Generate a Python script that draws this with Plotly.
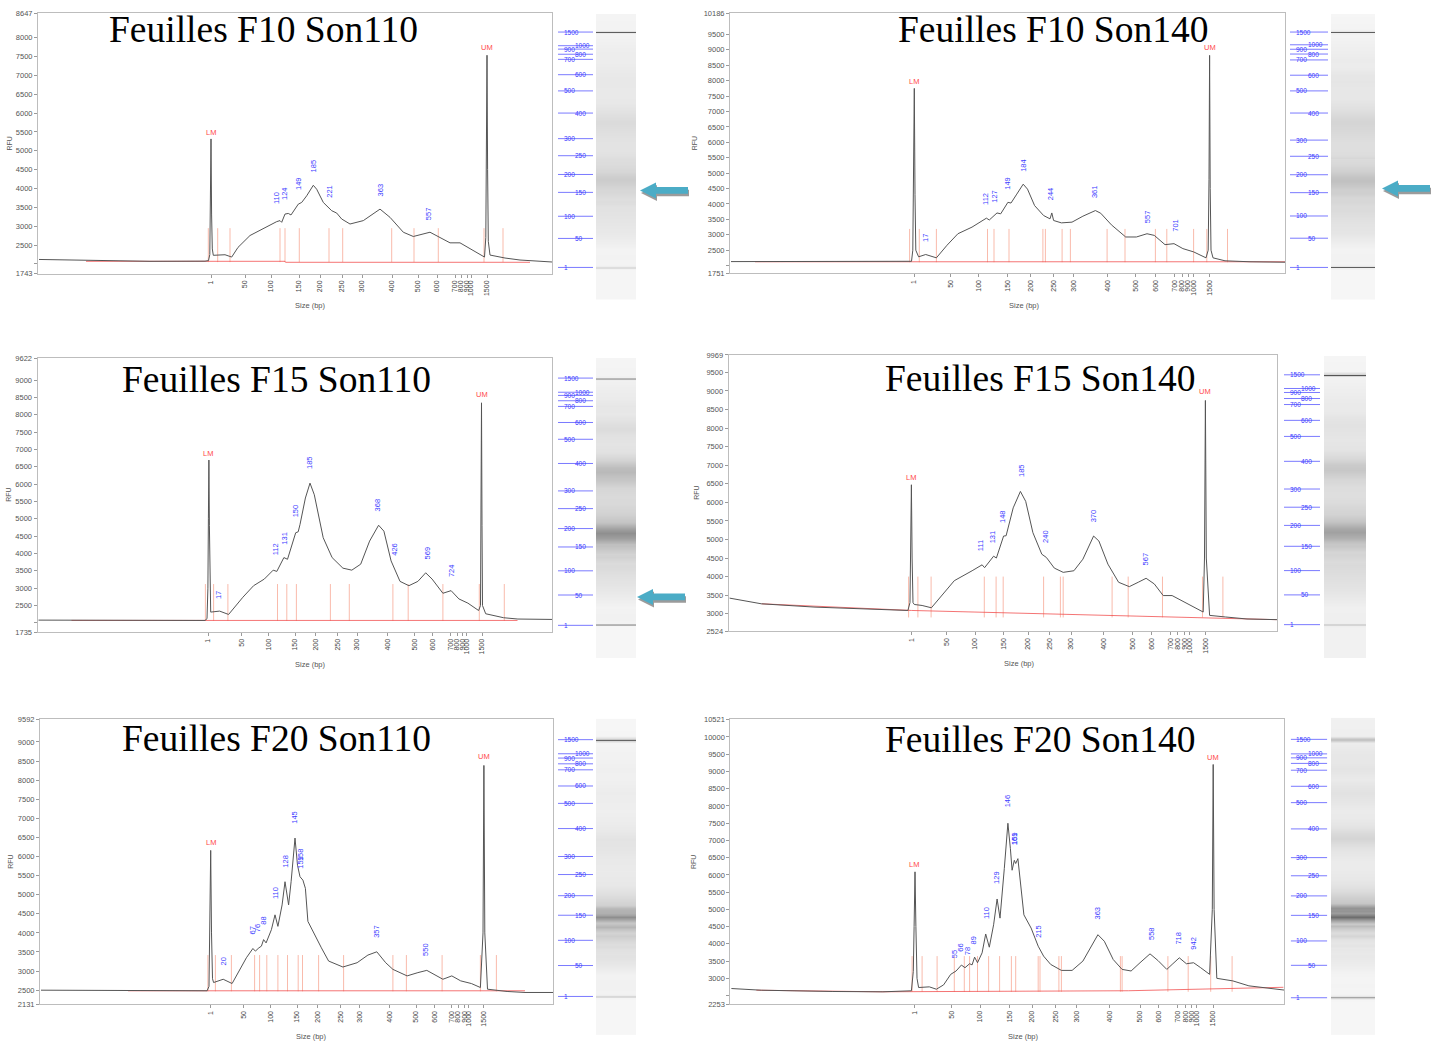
import numpy as np
import plotly.graph_objects as go

W, H = 1439, 1053

# size ladder (bp) shared by every run
LADDER_BP = [1, 50, 100, 150, 200, 250, 300, 400, 500, 600, 700, 800, 900, 1000, 1500]

# ---------- Feuilles F10 Son110 ----------
A_ladder_t = [173, 207, 233, 261, 282, 304, 324, 354, 380, 399, 417, 423, 429, 433, 449]
A_t = [1, 52, 112, 167, 170.5, 171.8, 172.4, 173, 173.6, 174.3,
       175.3, 181, 187, 193.7, 200, 212, 225.3, 238.7, 242, 243.7,
       247, 250.3, 253, 260.3, 263.7, 268.7, 275.3, 278.7, 285.3, 293.7,
       298.7, 303.7, 312, 325.3, 342, 352, 365.3, 375.3, 392, 402,
       412, 422, 442, 446.5, 447.8, 448.4, 449, 449.6, 450.3, 452,
       467, 482, 514]
A_rfu = [2120, 2090, 2071, 2075, 2090, 2250, 3400, 5316, 3300, 2400,
         2230, 2235, 2245, 2184, 2440, 2755, 2947, 3123, 3150, 3105,
         3324, 3340, 3300, 3587, 3632, 3808, 4087, 3982, 3632, 3413,
         3350, 3192, 3060, 3150, 3455, 3237, 2842, 2729, 2842, 2711,
         2561, 2561, 2271, 2184, 2700, 4500, 7535, 4500, 2600, 2237,
         2158, 2105, 2053]
A_peaks = [110, 124, 149, 185, 221, 363, 557]
A_peak_rfu = [3737, 3868, 4132, 4605, 3921, 3974, 3342]
A_markers = [170.3, 179.7, 192, 242, 247, 261.3, 291, 304.7, 353.7, 376, 400.3, 446, 465]
A_marker_span = [2050, 2950]
A_base_t = [48, 247, 247.5, 492]
A_base_rfu = [2071, 2071, 2045, 2045]
A_lm_um = [5475, 7740]
A_yrange = [1743, 8647]

# ---------- Feuilles F10 Son140 ----------
B_ladder_t = [184, 220.7, 248.6, 277.9, 300.4, 323.6, 343.9, 377.9, 405.7, 425.4, 444.6, 452, 458, 463.6, 479.6]
B_t = [1, 80, 178, 181.5, 182.8, 183.6, 184.3, 185, 185.8,
       188.6, 195.7, 206.4, 217, 227.9, 242, 256.4, 259.3, 267, 270.7,
       277.9, 281, 286.8, 293.2, 297.5, 304.6, 313.6, 320, 321.8, 323.6,
       331.4, 342, 352.9, 365.4, 370.7, 381.4, 395.7, 406.4, 417, 424.3,
       435, 444, 452.9, 463.6, 476, 478.2, 479, 479.6, 480.2, 481,
       483, 495, 520, 555]
B_rfu = [2130, 2124, 2124, 2140, 2500, 4500, 7751, 4300, 2500,
         2285, 2360, 2252, 2660, 3034, 3249, 3539, 3480, 3709, 3680,
         4053, 4030, 4320, 4642, 4481, 3947, 3625, 3517, 3709, 3464,
         3387, 3410, 3603, 3786, 3700, 3323, 2928, 2928, 3034, 2980,
         2680, 2712, 2551, 2445, 2252, 2500, 4800, 8822, 4500, 2500,
         2252, 2156, 2124, 2110]
B_peaks = [17, 112, 127, 149, 184, 244, 361, 557, 701]
B_peak_rfu = [2896, 4150, 4247, 4665, 5244, 4343, 4407, 3603, 3314]
B_markers = [179.6, 189.3, 206.4, 257.5, 264, 279, 312.9, 315.4, 332.1, 340.4,
             377.1, 395, 425.4, 436.8, 463.6, 476.8, 497.5]
B_marker_span = [2110, 3190]
B_base_t = [25, 555]
B_base_rfu = [2124, 2124]
B_lm_um = [7976, 9069]
B_yrange = [1751, 10186]

# ---------- Feuilles F15 Son110 ----------
C_ladder_t = [170.7, 204.3, 231.1, 257.5, 277.9, 300, 319.6, 350, 376.8, 395.4, 413.2, 419.5, 425.4, 428.9, 444.6]
C_t = [1, 72.5, 162.5, 167.5, 169.5, 170.4, 170.9, 171.4, 171.9, 172.4,
       173.2, 182.1, 191.1, 205.4, 216.1, 226.8, 235.7, 239.3, 246.4, 250,
       258.2, 260.7, 262.5, 267.9, 272.5, 276.8, 285.7, 294.6, 305.4, 314.3,
       323.2, 332.1, 341.1, 346.4, 353.6, 362.5, 371.4, 380.4, 388.2, 394.6,
       405.4, 413.6, 421.4, 430.4, 441.1, 443, 443.5, 444, 444.5, 445,
       448.2, 466.1, 480.4, 514.5]
C_rfu = [2080, 2075, 2071, 2071, 2120, 3000, 5000, 6694, 4800, 3000,
         2311, 2340, 2243, 2740, 3072, 3263, 3520, 3483, 3883, 3833,
         4598, 4626, 4836, 5600, 6028, 5693, 4455, 3883, 3578, 3520,
         3692, 4358, 4815, 4644, 3786, 3197, 3072, 3197, 3443, 3263,
         2854, 2929, 2691, 2569, 2357, 2500, 5000, 8343, 4800, 2500,
         2263, 2149, 2111, 2100]
C_peaks = [17, 112, 131, 150, 185, 368, 426, 569, 724]
C_peak_rfu = [2806, 4121, 4455, 5216, 6617, 5407, 4121, 4007, 3500]
C_markers = [167.9, 176.1, 190.4, 240, 249.3, 258.9, 292.9, 311.8, 355.4, 370.7, 405.4, 441.8, 466.8]
C_marker_span = [2060, 3120]
C_base_t = [34, 480]
C_base_rfu = [2071, 2071]
C_lm_um = [6885, 8581]
C_yrange = [1735, 9622]

# ---------- Feuilles F15 Son140 ----------
D_ladder_t = [182.8, 217.8, 246.4, 275, 299.6, 321, 342.4, 375, 404.3, 423.2, 441.8, 448.9, 456, 460.7, 476.8]
D_t = [1, 32.8, 86.4, 140, 179.3, 181.4, 182.1, 182.8, 183.5, 184.4,
       185.7, 193.5, 202.8, 211.4, 225.7, 243.5, 253.5, 256, 265, 267.8,
       275, 277.5, 284.6, 291.8, 297.1, 304.3, 313.2, 317.8, 325.7, 334.6,
       345.3, 354.3, 365, 370.3, 379.3, 390, 400.7, 409.6, 417.5, 425.7,
       434.6, 443.5, 452.5, 468.5, 474.6, 475.9, 476.8, 477.7, 481, 497.1,
       518.4, 548.4]
D_rfu = [3420, 3267, 3178, 3115, 3088, 3300, 4500, 6473, 4500, 3300,
         3249, 3222, 3160, 3446, 3890, 4157, 4317, 4240, 4550, 4500,
         5092, 5100, 5851, 6294, 6027, 5183, 4603, 4515, 4229, 4114,
         4157, 4469, 5092, 4958, 4336, 3847, 3729, 3847, 3954, 3802,
         3489, 3489, 3355, 3134, 3045, 4500, 8744, 4500, 2955, 2912,
         2858, 2840]
D_peaks = [111, 131, 148, 185, 240, 370, 567]
D_peak_rfu = [4825, 5076, 5618, 6866, 5076, 5645, 4478]
D_markers = [180, 189.3, 202.5, 255.7, 267.5, 274.6, 315, 331.8, 334.6, 383.5, 399.6, 433.9, 473.9, 494.3]
D_marker_span = [2900, 4000]
D_base_t = [33, 183, 548]
D_base_rfu = [3267, 3088, 2840]
D_lm_um = [6679, 8985]
D_yrange = [2524, 9969]

# ---------- Feuilles F20 Son110 ----------
E_ladder_t = [170.7, 203.6, 230.4, 257.1, 277.9, 300.4, 319.6, 349.3, 376.1, 394.6, 411.8, 418.2, 424.3, 428.9, 443.9]
E_t = [1, 60, 167.1, 169, 169.9, 170.7, 171.5, 172.5, 173.6, 183.2,
       192.1, 199.3, 206.4, 212.9, 215.4, 218.9, 221.4, 223.6, 226.1, 231.4,
       235, 237.9, 242.1, 245, 248.6, 251.1, 255, 257.5, 260, 262.9,
       265.4, 267.9, 274.3, 281.4, 288.6, 302.9, 317.1, 327.9, 336.8, 345.7,
       352.9, 367.1, 377.9, 386.8, 402.9, 411.8, 420.7, 431.4, 440.4, 443,
       443.9, 444.8, 447.5, 467.1, 485, 513]
E_rfu = [2500, 2495, 2484, 2600, 4000, 6160, 4000, 2800, 2700, 2786,
         2674, 3004, 3349, 3591, 3523, 3609, 3653, 3824, 3738, 4084,
         4473, 4171, 4733, 5340, 4733, 5340, 6483, 5771, 5470, 5382,
         5166, 4302, 3954, 3609, 3263, 3107, 3219, 3419, 3505, 3219,
         3045, 2874, 2960, 3019, 2786, 2874, 2744, 2674, 2570, 4000,
         8385, 4000, 2526, 2466, 2440, 2440]
E_peaks = [20, 67, 76, 88, 110, 128, 145, 158, 159, 357, 550]
E_peak_rfu = [3263, 4058, 4110, 4317, 5036, 5875, 7027, 6049, 5859, 4042, 3564]
E_markers = [167.9, 175.4, 191.4, 214.6, 219.6, 226.8, 237.9, 247.5, 258.2, 262.5,
             278.6, 303.6, 352.9, 366.4, 402.1, 440.4, 456.4]
E_marker_span = [2470, 3420]
E_base_t = [88, 485]
E_base_rfu = [2484, 2484]
E_lm_um = [6360, 8611]
E_yrange = [2131, 9592]

# ---------- Feuilles F20 Son140 ----------
F_ladder_t = [183.9, 221.4, 249.6, 279.2, 301.7, 325, 346, 379.2, 409.6, 428.5, 447.1, 455, 461.4, 466, 482.8]
F_t = [1, 31, 102.5, 152.5, 181, 182.9, 183.7, 184.6, 185.5, 186.6,
       188.2, 198.9, 206, 213.2, 220.3, 225.7, 231, 234.6, 239.2, 241.7,
       244.2, 247.1, 251.7, 255.3, 258.9, 263.2, 266.7, 269.6, 273.9, 277.5,
       280, 281.7, 283.9, 285.3, 287.5, 290, 293.5, 300.7, 307.8, 313.2,
       320.3, 331, 341.7, 352.5, 361.4, 367.5, 373.9, 382.8, 391.7, 400.7,
       409.6, 419.6, 427.5, 436.4, 441.7, 448.9, 456, 463.2, 470.3, 479.2,
       481.9, 482.8, 483.7, 486.4, 502.5, 518.5, 553.6]
F_rfu = [2704, 2655, 2618, 2609, 2638, 3200, 4500, 6089, 4500, 3000,
         2733, 2753, 2684, 2810, 3115, 3213, 3385, 3308, 3423, 3390,
         3615, 3452, 3739, 4286, 3903, 4553, 5301, 4746, 6184, 7498,
         6759, 6135, 6423, 6330, 6471, 5801, 4841, 4458, 3932, 3644,
         3403, 3230, 3230, 3500, 3932, 4265, 4076, 3546, 3259, 3213,
         3452, 3710, 3518, 3259, 3403, 3595, 3423, 3452, 3308, 3115,
         5000, 9203, 5000, 3000, 2925, 2782, 2660]
F_peaks = [55, 66, 78, 89, 110, 129, 146, 159, 161, 215, 363, 558, 718, 942]
F_peak_rfu = [3690, 3883, 3777, 4093, 4890, 5916, 8140, 7067, 7047, 4352, 4890, 4314, 4180, 4027]
F_markers = [181.7, 191.7, 206.7, 223.9, 233.9, 239.2, 247.1, 258.2, 269.2, 281, 285.3,
             307.8, 309.6, 328.5, 331, 390, 391.7, 437.5, 457.8, 480.3, 501.7]
F_marker_span = [2610, 3645]
F_base_t = [26, 150, 398, 553]
F_base_rfu = [2655, 2609, 2640, 2740]
F_lm_um = [6307, 9413]
F_yrange = [2253, 10521]

# ---------- page layout (pixel boxes of the pasted screenshots) ----------
PANELS = [
    dict(title="Feuilles F10 Son110", t=A_t, rfu=A_rfu, ladder=A_ladder_t, peaks=A_peaks, peak_rfu=A_peak_rfu,
         markers=A_markers, mspan=A_marker_span, base_t=A_base_t, base_rfu=A_base_rfu, lm_um=A_lm_um,
         yrange=A_yrange, ystart=2500, yblank=[2000], yskip=[8500],
         box=(38, 9.4, 552, 272), ladx=(558, 593), lanex=(596, 636), laney=(10, 298), gely=(265.7, 28.3),
         title_xy=(263, 26), rfu_shift=-29, arrow=(640, 188)),
    dict(title="Feuilles F10 Son140", t=B_t, rfu=B_rfu, ladder=B_ladder_t, peaks=B_peaks, peak_rfu=B_peak_rfu,
         markers=B_markers, mspan=B_marker_span, base_t=B_base_t, base_rfu=B_base_rfu, lm_um=B_lm_um,
         yrange=B_yrange, ystart=2500, yblank=[2000], yskip=[10000],
         box=(730, 9.4, 1285, 271.6), ladx=(1290, 1328), lanex=(1331, 1375), laney=(10, 298), gely=(265.7, 28.3),
         title_xy=(1053, 26), rfu_shift=-36, arrow=(1382, 186)),
    dict(title="Feuilles F15 Son110", t=C_t, rfu=C_rfu, ladder=C_ladder_t, peaks=C_peaks, peak_rfu=C_peak_rfu,
         markers=C_markers, mspan=C_marker_span, base_t=C_base_t, base_rfu=C_base_rfu, lm_um=C_lm_um,
         yrange=C_yrange, ystart=2500, yblank=[2000], yskip=[9500],
         box=(37.5, 357.5, 552, 633.5), ladx=(558, 593), lanex=(596, 636), laney=(357, 660), gely=(626.7, 377.3),
         title_xy=(276, 379), rfu_shift=-29, arrow=(637, 598)),
    dict(title="Feuilles F15 Son140", t=D_t, rfu=D_rfu, ladder=D_ladder_t, peaks=D_peaks, peak_rfu=D_peak_rfu,
         markers=D_markers, mspan=D_marker_span, base_t=D_base_t, base_rfu=D_base_rfu, lm_um=D_lm_um,
         yrange=D_yrange, ystart=3000, yblank=[], yskip=[],
         box=(728.6, 354, 1277, 632.8), ladx=(1284, 1320), lanex=(1324, 1366), laney=(355, 660), gely=(626, 374),
         title_xy=(1040, 378), rfu_shift=-32, arrow=None),
    dict(title="Feuilles F20 Son110", t=E_t, rfu=E_rfu, ladder=E_ladder_t, peaks=E_peaks, peak_rfu=E_peak_rfu,
         markers=E_markers, mspan=E_marker_span, base_t=E_base_t, base_rfu=E_base_rfu, lm_um=E_lm_um,
         yrange=E_yrange, ystart=2500, yblank=[], yskip=[9500],
         box=(40, 721.5, 553, 1008.9), ladx=(558, 593), lanex=(596, 636), laney=(721, 1040), gely=(1001, 742),
         title_xy=(276, 741), rfu_shift=-29, arrow=None),
    dict(title="Feuilles F20 Son140", t=F_t, rfu=F_rfu, ladder=F_ladder_t, peaks=F_peaks, peak_rfu=F_peak_rfu,
         markers=F_markers, mspan=F_marker_span, base_t=F_base_t, base_rfu=F_base_rfu, lm_um=F_lm_um,
         yrange=F_yrange, ystart=3000, yblank=[2500], yskip=[10500],
         box=(730.4, 721.2, 1284, 1008.7), ladx=(1290.7, 1327.3), lanex=(1331, 1375), laney=(720, 1040), gely=(1002.3, 741.7),
         title_xy=(1040, 742), rfu_shift=-37, arrow=None),
]

SANS = "Liberation Sans"
GEL_SCALE = [[0, "#f6f6f6"], [0.2, "#e2e2e2"], [0.45, "#c2c2c2"], [0.7, "#939393"], [1, "#555555"]]


def fx(px):
    return px / W


def fy(py):
    return 1 - py / H


def names(k):
    s = "" if k == 1 else str(k)
    return "x" + s, "y" + s, "xaxis" + s, "yaxis" + s


fig = go.Figure()
layout = {}
annotations = []
shapes = []

for i, p in enumerate(PANELS):
    xe, ye, xek, yek = names(3 * i + 1)
    xl, yl, xlk, ylk = names(3 * i + 2)
    xg, yg, xgk, ygk = names(3 * i + 3)
    L, T, R, B = p["box"]
    lad = p["ladder"]

    # ---- electropherogram
    ylo, yhi = p["yrange"]
    yvals = [ylo] + p["yblank"] + [v for v in range(p["ystart"], int(yhi) + 1, 500) if v not in p["yskip"]] + [yhi]
    ytext = ["" if v in p["yblank"] else str(v) for v in yvals]
    axis_common = dict(showgrid=False, zeroline=False, showline=True, mirror=True, linecolor="#bdbdbd",
                       linewidth=1, ticks="outside", ticklen=3, tickcolor="#9a9a9a")
    layout[xek] = dict(axis_common, domain=[fx(L), fx(R)], range=[0, R - L], anchor=ye,
                       tickvals=lad, ticktext=[str(b) for b in LADDER_BP], tickangle=-90,
                       tickfont=dict(family=SANS, size=7, color="#444"))
    layout[yek] = dict(axis_common, domain=[fy(B), fy(T)], range=[ylo, yhi], anchor=xe,
                       tickvals=yvals, ticktext=ytext, tickfont=dict(family=SANS, size=7.5, color="#555"))

    mx, my = [], []
    for m in p["markers"]:
        mx += [m, m, None]
        my += [p["mspan"][0], p["mspan"][1], None]
    fig.add_trace(go.Scatter(x=mx, y=my, xaxis=xe, yaxis=ye, mode="lines", hoverinfo="skip",
                             line=dict(color="rgba(244,120,90,0.5)", width=1)))
    fig.add_trace(go.Scatter(x=p["base_t"], y=p["base_rfu"], xaxis=xe, yaxis=ye, mode="lines",
                             line=dict(color="rgba(240,70,70,0.75)", width=1)))
    fig.add_trace(go.Scatter(x=p["t"], y=p["rfu"], xaxis=xe, yaxis=ye, mode="lines",
                             line=dict(color="#555555", width=1)))

    peak_x = np.interp(p["peaks"], LADDER_BP, lad)
    for bp, px_, py_ in zip(p["peaks"], peak_x, p["peak_rfu"]):
        annotations.append(dict(x=px_, y=py_, xref=xe, yref=ye, text=str(bp), textangle=-90, showarrow=False,
                                font=dict(family=SANS, size=7.5, color="#3c3cff")))
    for lab, xv, yv in zip(["LM", "UM"], [lad[0], lad[-1]], p["lm_um"]):
        annotations.append(dict(x=xv, y=yv, xref=xe, yref=ye, text=lab, showarrow=False,
                                font=dict(family=SANS, size=7.5, color="#ff4a4a")))
    annotations.append(dict(x=0, y=0.5, xref=xe + " domain", yref=ye + " domain", xshift=p["rfu_shift"],
                            text="RFU", textangle=-90, showarrow=False, xanchor="center", yanchor="middle",
                            font=dict(family=SANS, size=7, color="#555")))
    annotations.append(dict(x=0.53, y=0, xref=xe + " domain", yref=ye + " domain", yshift=-32,
                            xanchor="center", yanchor="middle",
                            text="Size (bp)", showarrow=False, font=dict(family=SANS, size=7.5, color="#555")))
    annotations.append(dict(x=fx(p["title_xy"][0]), y=fy(p["title_xy"][1]), xref="paper", yref="paper",
                            text=p["title"], showarrow=False, xanchor="center", yanchor="middle",
                            font=dict(family="Liberation Serif", size=37.5, color="black")))

    # ---- ladder + gel lane (same migration scale, drawn vertically)
    lx0, lx1 = p["ladx"]
    gx0, gx1 = p["lanex"]
    top, bot = p["laney"]
    y1px, y1500px = p["gely"]
    scale = (lad[-1] - lad[0]) / (y1px - y1500px)
    t_top = lad[-1] + (y1500px - top) * scale
    t_bot = lad[0] - (bot - y1px) * scale
    hidden = dict(visible=False, showgrid=False, zeroline=False, fixedrange=True)
    layout[xlk] = dict(hidden, domain=[fx(lx0), fx(lx1)], range=[0, 1], anchor=yl)
    layout[ylk] = dict(hidden, domain=[fy(bot), fy(top)], range=[t_bot, t_top], anchor=xl)
    layout[xgk] = dict(hidden, domain=[fx(gx0), fx(gx1)], range=[0, 1], anchor=yg)
    layout[ygk] = dict(hidden, domain=[fy(bot), fy(top)], range=[t_bot, t_top], anchor=xg)

    lx, ly = [], []
    for tv in lad:
        lx += [0, 1, None]
        ly += [tv, tv, None]
    fig.add_trace(go.Scatter(x=lx, y=ly, xaxis=xl, yaxis=yl, mode="lines", hoverinfo="skip",
                             line=dict(color="#7a7aff", width=1)))
    for j, (bp, tv) in enumerate(zip(LADDER_BP, lad)):
        annotations.append(dict(x=0.1 if j % 2 == 0 else 0.42, y=tv, xref=xl, yref=yl, text=str(bp),
                                xanchor="left", yanchor="middle", showarrow=False,
                                font=dict(family=SANS, size=6.5, color="#3a3aff")))

    floor = min(p["base_rfu"])
    fig.add_trace(go.Heatmap(x=[0.25, 0.75], y=p["t"], z=[[v, v] for v in p["rfu"]], xaxis=xg, yaxis=yg,
                             zmin=floor, zmax=floor + 5500, colorscale=GEL_SCALE, zsmooth="best",
                             showscale=False, hoverinfo="skip"))

    # ---- cyan pointer arrow with grey drop shadow
    if p["arrow"]:
        ax_, ay_ = p["arrow"]
        arrow_path = "M 0 0 L 16 8 L 16 3.3 L 48 3.3 L 48 -3.3 L 16 -3.3 L 16 -8 Z"
        for dx, dy, col in [(1, -2.6, "#9b9b9b"), (0, 0, "#4bacc6")]:
            shapes.append(dict(type="path", xref="paper", yref="paper", xsizemode="pixel", ysizemode="pixel",
                               xanchor=fx(ax_ + dx), yanchor=fy(ay_) + dy / H, path=arrow_path,
                               fillcolor=col, line=dict(width=0)))

fig.update_layout(**layout)
fig.update_layout(width=W, height=H, margin=dict(l=0, r=0, t=0, b=0), showlegend=False,
                  paper_bgcolor="white", plot_bgcolor="white",
                  annotations=annotations, shapes=shapes)

fig.write_html("out.html", config={"displayModeBar": False},
               post_script="document.body.style.margin='0px';")
